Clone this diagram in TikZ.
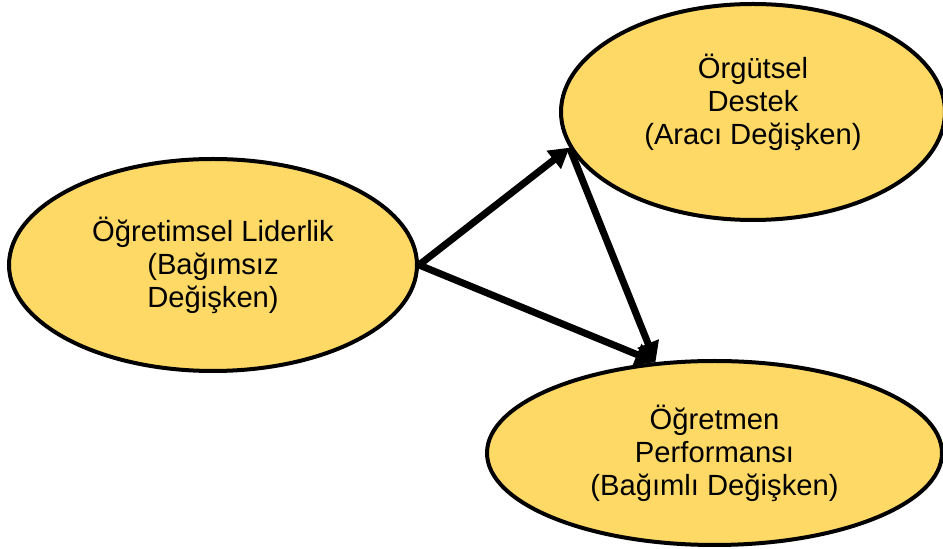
\documentclass[tikz,border=0pt]{standalone}
\usepackage{fontspec}
\setmainfont{Liberation Sans}
\usetikzlibrary{shapes.geometric,arrows.meta}
\definecolor{ovalfill}{RGB}{255,217,102}
\begin{document}
\begin{tikzpicture}[x=0.5pt,y=-0.5pt,
  oval/.style={ellipse,draw=black,line width=2pt,fill=ovalfill,inner sep=0pt},
  lbl/.style={align=center,font=\fontsize{14.6}{16.5}\selectfont},
  link/.style={line width=3.5pt,-{Triangle[length=10pt,width=11pt]}}]
  \useasboundingbox (0,0) rectangle (943,549);
  % variables
  \node[oval,minimum width=204pt,minimum height=106pt] (lead) at (213,265) {};
  \node[lbl] (leadtxt) at (lead.center) {Öğretimsel Liderlik\\(Bağımsız\\Değişken)};
  \node[oval,minimum width=192pt,minimum height=108pt] (supp) at (753,112) {};
  \node[lbl] (supptxt) at ([yshift=5pt]supp.center) {Örgütsel\\Destek\\(Aracı Değişken)};
  \node[oval,minimum width=227.5pt,minimum height=92pt] (perf) at (714.5,453) {};
  \node[lbl] (perftxt) at (perf.center) {Öğretmen\\Performansı\\(Bağımlı Değişken)};
  % paths
  \draw[link] (lead.east) -- (supp.191);
  \draw[link] (lead.east) -- (perf.123);
  \draw[link] (supp.191) -- (perf.123);
\end{tikzpicture}
\end{document}
